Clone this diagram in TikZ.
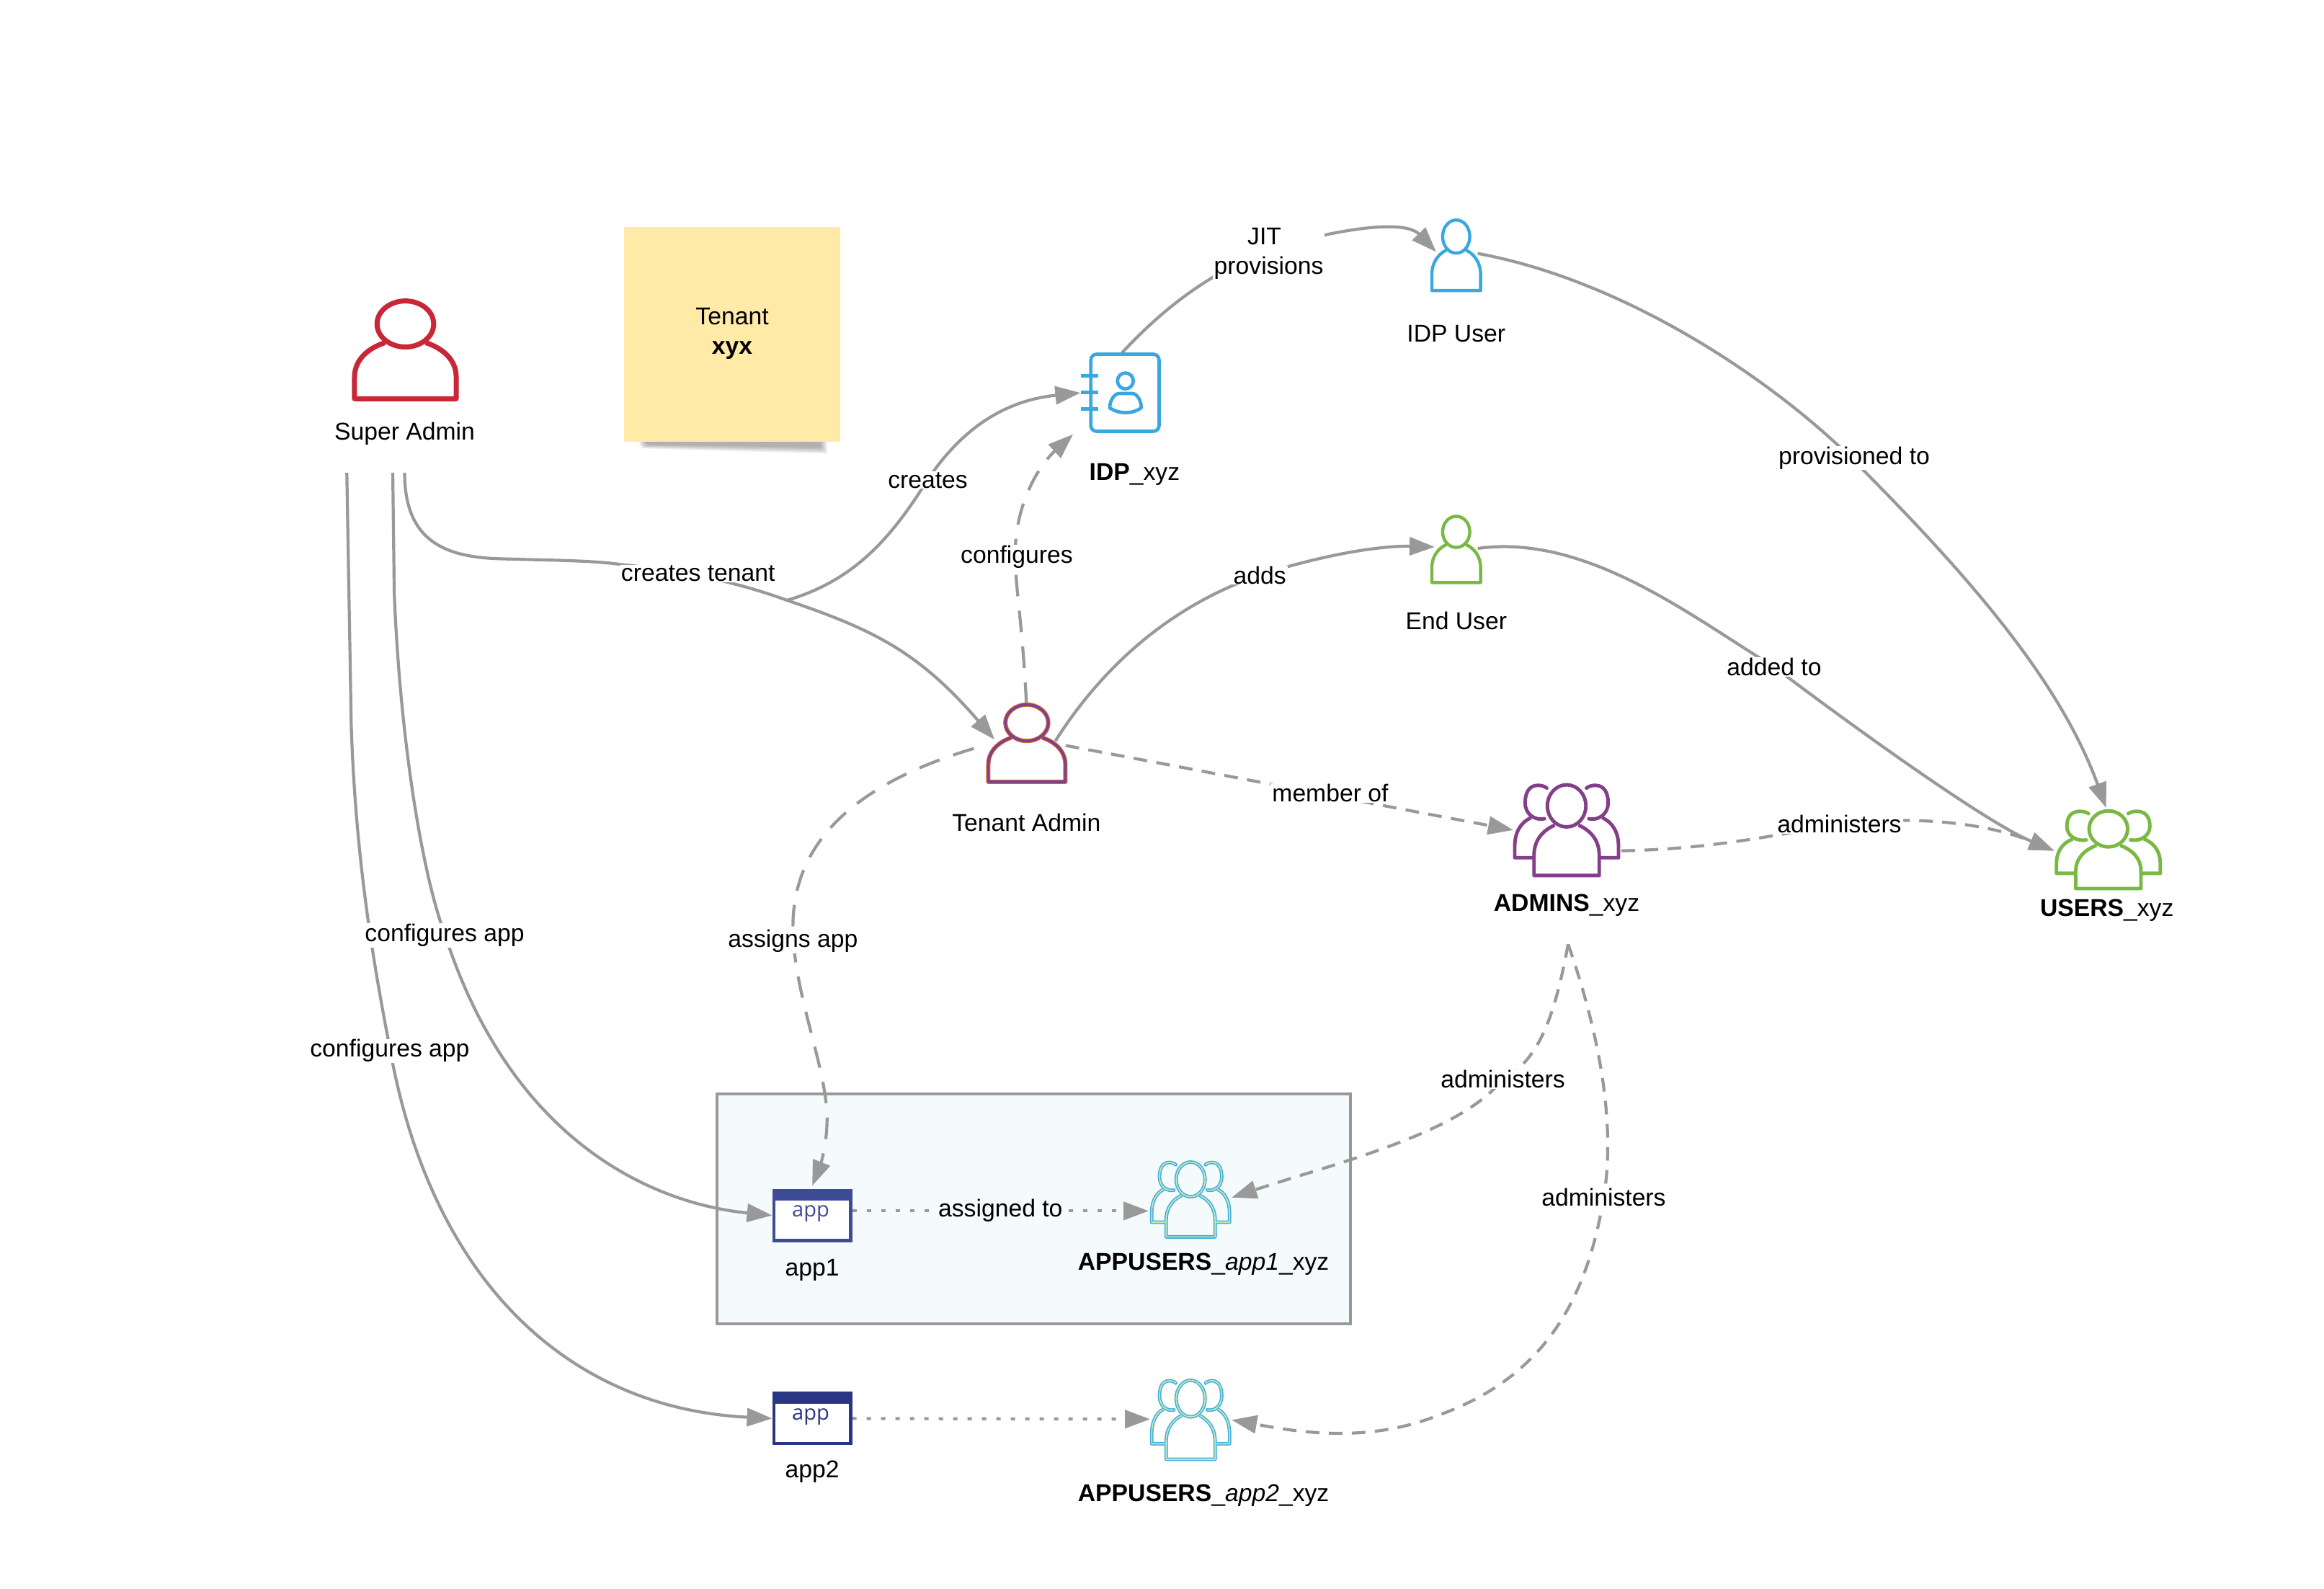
\documentclass[tikz,border=0pt]{standalone}
\usepackage{fontspec}
\setmainfont{Liberation Sans}
\newfontfamily\appfont{Open Sans}
\usetikzlibrary{arrows.meta,fit}
\definecolor{linegrey}{HTML}{999999}
\definecolor{boxfill}{HTML}{F5FAFD}
\definecolor{stickyfill}{HTML}{FFEAA7}
\definecolor{sared}{HTML}{C92638}
\definecolor{taouter}{HTML}{D9702B}
\definecolor{tainner}{HTML}{7F3F8F}
\definecolor{skyblue}{HTML}{3AA8E0}
\definecolor{leaf}{HTML}{7AB844}
\definecolor{adminpurple}{HTML}{833F89}
\definecolor{groupcyan}{HTML}{3FAEDF}
\definecolor{groupinner}{HTML}{C5E8B7}
\definecolor{appone}{HTML}{3E4C96}
\definecolor{apptwo}{HTML}{2A3584}
\tikzset{
  conn/.style={draw=linegrey,line width=4.2pt,-{Triangle[length=35pt,width=25pt]}},
  dashlong/.style={conn,dash pattern=on 30pt off 20pt},
  dashshort/.style={conn,dash pattern=on 19pt off 13pt},
  dotline/.style={conn,dash pattern=on 6pt off 14pt},
  lbl/.style={fill=white,inner xsep=2pt,inner ysep=1pt,align=center,font=\fontsize{33.7}{41}\selectfont,text=black},
  lblbox/.style={lbl,fill=boxfill},
  txt/.style={inner sep=0pt,align=center,font=\fontsize{33.7}{41}\selectfont,text=black},
  apptxt/.style={inner sep=0pt,font=\appfont\fontsize{29}{35}\selectfont},
  bbox/.style={inner sep=0pt,outer sep=0pt},
  personpic/.pic={
    \path[pic actions,fill=none,line join=round] (0,-52) ellipse [x radius=19.5,y radius=16];
    \path[pic actions,fill=none,line join=round] (-14,-39) .. controls (-26,-35) and (-35,-27) .. (-35,-15) -- (-35,0) -- (35,0) -- (35,-15) .. controls (35,-27) and (26,-35) .. (14,-39);
  },
  grouppic/.pic={
    \path[pic actions,fill=none] (0,-47) ellipse [x radius=13,y radius=14.2];
    \path[pic actions,fill=none,line join=round] (-8,-34) .. controls (-16,-30.5) and (-22,-24) .. (-22,-13.7) -- (-22,0) -- (22,0) -- (22,-13.7) .. controls (22,-24) and (16,-30.5) .. (8,-34);
    \path[pic actions,fill=none,line cap=round] (-13.4,-59) .. controls (-16,-61.5) and (-28,-64) .. (-28,-49) .. controls (-28,-41) and (-21,-37) .. (-15,-38.3);
    \path[pic actions,fill=none,line cap=round] (13.4,-59) .. controls (16,-61.5) and (28,-64) .. (28,-49) .. controls (28,-41) and (21,-37) .. (15,-38.3);
    \path[pic actions,fill=none,line join=round] (-24,-39) .. controls (-31,-36) and (-35,-29) .. (-35,-20) -- (-35,-12) -- (-22,-12);
    \path[pic actions,fill=none,line join=round] (24,-39) .. controls (31,-36) and (35,-29) .. (35,-20) -- (35,-12) -- (22,-12);
  },
}
\begin{document}
\begin{tikzpicture}[x=2.05676pt,y=-2.05676pt]
\useasboundingbox (0,0) rectangle (1568,1072.07);
% sticky note
\foreach \d in {0,1,2,3,4}{
  \fill[black,opacity=.07] (431+\d,298) -- (558-\d,298) -- (558-\d,306-\d) -- (433+\d,302.5-.6*\d) -- cycle;
}
\node[fit={(421,153) (567,298)},bbox,fill=stickyfill] (sticky) {};
\node[txt] (stickytext) at (494,225) {Tenant\\\textbf{xyx}};
% tenant box
\node[fit={(484,738) (911,893)},bbox,fill=boxfill,draw=linegrey,line width=4pt] (tenantbox) {};
% icon frames
\node[fit={(238,201) (309,270)},bbox] (sa) {};
\node[fit={(666,475) (719,528)},bbox] (ta) {};
\node[fit={(729,238) (783,292)},bbox] (idp) {};
\node[fit={(965,147) (1000,197)},bbox] (idpu) {};
\node[fit={(965,347) (1000,394)},bbox] (endu) {};
\node[fit={(1021,529) (1094,592)},bbox] (admins) {};
\node[fit={(1386,547) (1459,601)},bbox] (users) {};
\node[fit={(521,802) (575,838)},bbox] (appa) {};
\node[fit={(521,939) (575,975)},bbox] (appb) {};
\node[fit={(776,783) (831,835)},bbox] (ua) {};
\node[fit={(776,930) (831,985)},bbox] (ub) {};
% free ends
\coordinate (saA) at (273,319);
\coordinate (saB) at (265,319);
\coordinate (saC) at (234,319);
\coordinate (fork) at (531,405);
\coordinate (admFoot) at (1058,637);
\coordinate (taIn) at (671,499);
\coordinate (taOutR) at (712,500);
\coordinate (taDashR) at (719,503);
\coordinate (taDashL) at (657,505);
\coordinate (idpTop) at (757,238);
\coordinate (idpLow) at (724,293);
\coordinate (idpuOut) at (997,171);
\coordinate (idpuIn) at (969,170);
\coordinate (enduIn) at (968,369);
\coordinate (enduOut) at (997,370);
\coordinate (usersTop) at (1421,545);
\coordinate (usersL) at (1386,574);
\coordinate (adminsL) at (1021,560);
\coordinate (adminsR) at (1094,574);
\coordinate (uaIn) at (831,808);
\coordinate (ubIn) at (831,958);
\coordinate (appaTop) at (548,800);
\coordinate (appaOut) at (575,817);
\coordinate (uaDot) at (775,817);
% connectors
\draw[conn] (saA) .. controls (273,365) and (300,376) .. (338,377) .. controls (370,378) and (400,378) .. (420,381) .. controls (450,384) and (490,390) .. (fork) .. controls (590,425) and (620,440) .. (taIn);
\draw[conn] (fork) .. controls (575,392) and (600,365) .. (625,325) .. controls (650,287) and (680,270) .. (idp.west);
\draw[dashlong] (ta.north) .. controls (690,420) and (684,390) .. (685,370) .. controls (686,340) and (700,315) .. (idpLow);
\draw[conn] (idpTop) .. controls (785,208) and (815,185) .. (853,170) .. controls (880,160) and (945,145) .. (idpuIn);
\draw[conn] (idpuOut) .. controls (1100,190) and (1200,260) .. (1250,310) .. controls (1330,390) and (1390,460) .. (usersTop);
\draw[conn] (taOutR) .. controls (750,440) and (800,405) .. (850,388) .. controls (890,375) and (930,368) .. (enduIn);
\draw[conn] (enduOut) .. controls (1070,360) and (1140,415) .. (1197,450) .. controls (1250,490) and (1340,555) .. (usersL);
\draw[dashshort] (taDashR) .. controls (800,518) and (930,543) .. (adminsL);
\draw[dashshort] (adminsR) .. controls (1150,573) and (1190,565) .. (1241,556) .. controls (1290,550) and (1340,555) .. (usersL);
\draw[dashlong] (taDashL) .. controls (590,525) and (535,560) .. (535,625) .. controls (535,670) and (558,720) .. (558,755) .. controls (558,775) and (552,790) .. (appaTop);
\draw[conn] (saB) -- (266,400) .. controls (270,500) and (285,590) .. (300,630) .. controls (345,770) and (440,812) .. (appa.west);
\draw[conn] (saC) -- (237,490) .. controls (240,580) and (252,650) .. (263,707) .. controls (290,860) and (380,950) .. (appb.west);
\draw[dotline] (appaOut) -- (uaDot);
\draw[dotline] (appb.east) -- (ub.west);
\draw[dashshort] (admFoot) .. controls (1050,680) and (1040,715) .. (1014,728) .. controls (985,765) and (900,785) .. (uaIn);
\draw[dashshort] (admFoot) .. controls (1080,700) and (1090,760) .. (1082,808) .. controls (1070,880) and (1040,930) .. (970,955) .. controls (920,975) and (870,965) .. (ubIn);
% person icons
\pic[draw=sared,line width=7pt,xscale=.98,yscale=.97] at (273.5,269) {personpic};
\pic[draw=taouter,line width=6pt,xscale=.743,yscale=.766] at (692.8,527.5) {personpic};
\pic[draw=tainner,line width=3.8pt,xscale=.743,yscale=.766] at (692.8,527.5) {personpic};
\pic[draw=skyblue,line width=4.4pt,xscale=.47,yscale=.70] at (982.5,196) {personpic};
\pic[draw=leaf,line width=4.4pt,xscale=.47,yscale=.657] at (982.5,393) {personpic};
% IDP icon
\draw[draw=skyblue,line width=4.7pt,rounded corners=8pt] (736,239) rectangle (782,291);
\foreach \ty in {253.6,264.8,276}{\draw[draw=skyblue,line width=4.7pt] (729.3,\ty) -- (741,\ty);}
\draw[draw=skyblue,line width=4.7pt] (759.3,257) circle [radius=5.35];
\draw[draw=skyblue,line width=4.7pt,line join=round] (755,265.5) -- (764,265.5) .. controls (767,265.5) and (770,270) .. (770,275.2) .. controls (764,279.5) and (755,279.5) .. (748.7,275.2) .. controls (748.7,270) and (752,265.5) .. cycle;
% groups
\pic[draw=adminpurple,line width=4.9pt] at (1057,590.7) {grouppic};
\pic[draw=leaf,line width=4.9pt,yscale=.857] at (1422.5,599.5) {grouppic};
\pic[draw=groupcyan,line width=4.8pt,xscale=.75,yscale=.825] at (803.3,834.5) {grouppic};
\pic[draw=groupinner,line width=1.7pt,xscale=.75,yscale=.825] at (803.3,834.5) {grouppic};
\pic[draw=groupcyan,line width=4.8pt,xscale=.75,yscale=.87] at (803.3,984.5) {grouppic};
\pic[draw=groupinner,line width=1.7pt,xscale=.75,yscale=.87] at (803.3,984.5) {grouppic};
% app icons
\fill[appone] (appa.north west) rectangle (appa.south east);
\fill[white] (523.2,810) rectangle (572.8,835.8);
\node[apptxt,text=appone] (appatxt) at (547,819) {app};
\fill[apptwo] (appb.north west) rectangle (appb.south east);
\fill[white] (523.2,947) rectangle (572.8,972.8);
\node[apptxt,text=apptwo] (appbtxt) at (547,956) {app};
% icon captions
\node[txt] (saL) at (273,292.5) {Super Admin};
\node[txt] (taL) at (692.5,555) {Tenant Admin};
\node[txt] (idpL) at (765.5,320) {\textbf{IDP}\_xyz};
\node[txt] (idpuL) at (982.5,225) {IDP User};
\node[txt] (enduL) at (982.5,419) {End User};
\node[txt] (adminsTxt) at (1057,611) {\textbf{ADMINS}\_xyz};
\node[txt] (usersTxt) at (1421.5,614) {\textbf{USERS}\_xyz};
\node[txt] (appaL) at (548,857) {app1};
\node[txt] (appbL) at (548,993) {app2};
\node[txt] (uaL) at (812,853) {\textbf{APPUSERS}\_\textit{app1}\_xyz};
\node[txt] (ubL) at (812,1009) {\textbf{APPUSERS}\_\textit{app2}\_xyz};
% connector labels
\node[lbl] (l1) at (471,387) {creates tenant};
\node[lbl] (l2) at (626,324) {creates};
\node[lbl] (l3) at (686,375.5) {configures};
\node[lbl] (l4) at (856,171) {JIT\hspace*{12pt}\\provisions};
\node[lbl] (l5) at (1251,309) {provisioned to};
\node[lbl] (l6) at (850,388) {adds};
\node[lbl] (l7) at (1197,450) {added to};
\node[lbl] (l8) at (897.5,535) {member of};
\node[lbl] (l9) at (1241,556) {administers};
\node[lbl] (l10) at (535,635) {assigns app};
\node[lbl] (l11) at (300,631) {configures app};
\node[lbl] (l12) at (263,709) {configures app};
\node[lblbox] (l13) at (675,816.5) {assigned to};
\node[lbl] (l14) at (1014,728) {administers};
\node[lbl] (l15) at (1082,808) {administers};
\end{tikzpicture}
\end{document}
